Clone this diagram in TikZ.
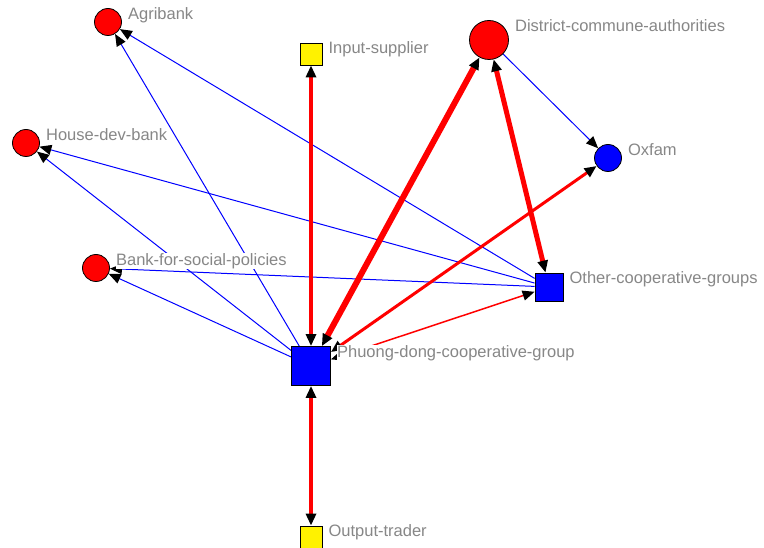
\documentclass[tikz,border=0pt]{standalone}
\usepackage{fontspec}
\setmainfont{Liberation Sans}
\usetikzlibrary{arrows.meta,calc}
\pgfdeclarelayer{edges}
\pgfsetlayers{edges,main}
\definecolor{lblgray}{RGB}{135,135,135}

\begin{document}
\begin{tikzpicture}[
        x=1pt, y=-1pt,
        >={Triangle[length=12pt,width=10pt,color=black]},
        actor/.style={circle, draw=black, line width=0.8pt, inner sep=0pt, minimum size=27pt},
        group/.style={rectangle, draw=black, line width=0.8pt, inner sep=0pt, fill=blue},
        trader/.style={rectangle, draw=black, line width=0.8pt, inner sep=0pt, fill=yellow, minimum size=22pt},
        weak/.style={blue, line width=1pt},
        tie/.style={red},
        lbl/.style={anchor=base west, fill=white, inner sep=0.5pt, text=lblgray, font=\fontsize{16.5}{18}\selectfont}
    ]
        \useasboundingbox (0,0) rectangle (764,548);

        % Banks (left)
        \node[actor, fill=red] (agri) at (108,22) {};
        \node[actor, fill=red] (house) at (26,143) {};
        \node[actor, fill=red] (bsp) at (96,268) {};

        % Suppliers and traders
        \node[trader] (input) at (311,54) {};
        \node[trader] (output) at (311,537) {};

        % Authorities and NGO
        \node[actor, fill=red, minimum size=39pt] (district) at (489,40) {};
        \node[actor, fill=blue] (oxfam) at (608,158) {};

        % Cooperative groups
        \node[group, minimum size=28pt] (other) at (549,287) {};
        \node[group, minimum size=39pt] (phuong) at (311,366) {};

        % Ties
        \begin{pgfonlayer}{edges}
            \draw[weak, ->] (phuong) -- (agri);
            \draw[weak, ->] (phuong) -- (house);
            \draw[weak, ->] (phuong) -- (bsp);
            \draw[weak, ->] (other) -- (agri);
            \draw[weak, ->] (other) -- (house);
            \draw[weak, ->] (other) -- (bsp);
            \draw[weak, ->] (district) -- (oxfam);

            \draw[tie, line width=4pt, <->] (input) -- (phuong);
            \draw[tie, line width=4pt, <->] (output) -- (phuong);
            \draw[tie, line width=6pt, <->] (phuong) -- (district);
            \draw[tie, line width=5pt, <->] (district) -- (other);
            \draw[tie, line width=3pt, <->] (phuong) -- (oxfam);
            \draw[tie, line width=1.5pt, <->] (phuong) -- (other);
        \end{pgfonlayer}

        % Labels
        \node[lbl] (agri-lbl) at ($(agri.east |- agri.north)+(5.5,11)$) {Agribank};
        \node[lbl] (house-lbl) at ($(house.east |- house.north)+(5.5,11)$) {House-dev-bank};
        \node[lbl] (bsp-lbl) at ($(bsp.east |- bsp.north)+(5.5,11)$) {Bank-for-social-policies};
        \node[lbl] (input-lbl) at ($(input.east |- input.north)+(5.5,11)$) {Input-supplier};
        \node[lbl] (output-lbl) at ($(output.east |- output.north)+(5.5,11)$) {Output-trader};
        \node[lbl] (district-lbl) at ($(district.east |- district.north)+(5.5,11)$) {District-commune-authorities};
        \node[lbl] (oxfam-lbl) at ($(oxfam.east |- oxfam.north)+(5.5,11)$) {Oxfam};
        \node[lbl] (other-lbl) at ($(other.east |- other.north)+(5.5,11)$) {Other-cooperative-groups};
        \node[lbl] (phuong-lbl) at ($(phuong.east |- phuong.north)+(5.5,11)$) {Phuong-dong-cooperative-group};
    \end{tikzpicture}
\end{document}
